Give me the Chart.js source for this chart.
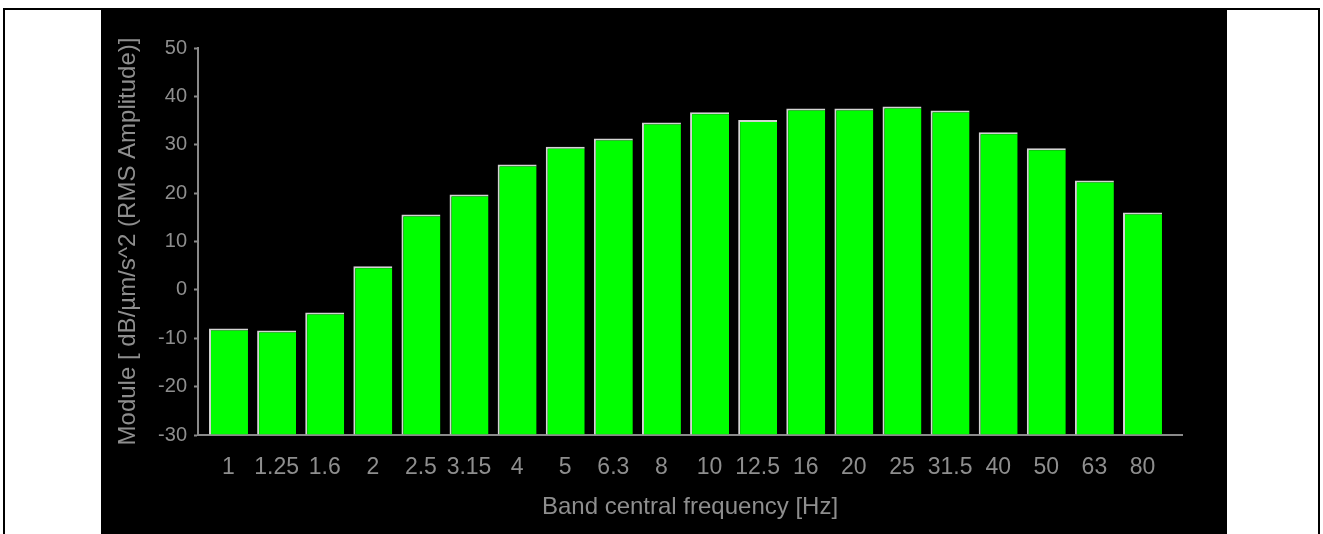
<!DOCTYPE html>
<html>
<head>
<meta charset="utf-8">
<title>Band spectrum</title>
<script src="https://cdn.jsdelivr.net/npm/chart.js@4.4.1/dist/chart.umd.min.js"></script>
<style>
  html, body { margin: 0; padding: 0; background: #ffffff; overflow: hidden; }
  #frame {
    position: absolute; left: 3px; top: 8px; width: 1313px; height: 540px;
    border: 2px solid #000000; box-sizing: content-box;
  }
  #panel {
    position: absolute; left: 101px; top: 10px; width: 1126px; height: 524px;
    background: #000000;
  }
  #chart { display: block; }
</style>
</head>
<body>
<div id="frame"></div>
<div id="panel"><canvas id="chart" width="1126" height="524"></canvas></div>
<script>
// Third-octave band centre frequencies [Hz]
const bandLabels = ['1', '1.25', '1.6', '2', '2.5', '3.15', '4', '5', '6.3', '8',
                    '10', '12.5', '16', '20', '25', '31.5', '40', '50', '63', '80'];

// Band level, dB re 1 µm/s^2 (RMS amplitude)
const bandLevels = [-8.0, -8.4, -4.7, 4.9, 15.6, 19.7, 25.9, 29.6, 31.3, 34.6,
                    36.7, 35.1, 37.5, 37.5, 37.9, 37.1, 32.6, 29.3, 22.6, 16.0];

// Value axis ticks
const levelTicks = [-30, -20, -10, 0, 10, 20, 30, 40, 50];

const axisGrey = '#8a8a8a';
const textGrey = '#8e8e8e';
const fontFamily = '"Liberation Sans", Arial, sans-serif';

const points = bandLevels.map((v, i) => ({ x: i, y: v }));

new Chart(document.getElementById('chart'), {
  type: 'bar',
  data: {
    datasets: [{
      data: points,
      base: levelTicks[0],
      backgroundColor: '#00ff00',
      borderColor: '#d4d4d4',
      borderWidth: { top: 2, left: 2, right: 0, bottom: 0 },
      borderSkipped: false,
      categoryPercentage: 1.0,
      barPercentage: 0.81
    }]
  },
  options: {
    responsive: false,
    devicePixelRatio: 1,
    animation: false,
    layout: { padding: { top: 38, right: 45, left: 0, bottom: 0 } },
    plugins: { legend: { display: false }, tooltip: { enabled: false } },
    scales: {
      x: {
        type: 'linear',
        offset: false,
        min: -0.634,
        max: 19.821,
        grid: { display: false, offset: false },
        border: { display: true, color: axisGrey, width: 2 },
        afterBuildTicks: (scale) => { scale.ticks = bandLabels.map((_, i) => ({ value: i })); },
        afterFit: (scale) => { scale.height = 99; },
        ticks: {
          autoSkip: false,
          maxRotation: 0,
          padding: 11,
          color: textGrey,
          font: { family: fontFamily, size: 23 },
          callback: (value) => bandLabels[value]
        },
        title: {
          display: true,
          text: 'Band central frequency [Hz]',
          color: textGrey,
          font: { family: fontFamily, size: 24 },
          padding: { top: 0, bottom: 12 }
        }
      },
      y: {
        min: levelTicks[0],
        max: levelTicks[levelTicks.length - 1],
        afterBuildTicks: (scale) => { scale.ticks = levelTicks.map(v => ({ value: v })); },
        afterFit: (scale) => { scale.width = 97; },
        grid: {
          display: true,
          drawOnChartArea: false,
          drawTicks: true,
          tickLength: 4,
          tickColor: axisGrey,
          tickWidth: 2
        },
        border: { display: true, color: axisGrey, width: 2 },
        ticks: {
          padding: 7,
          color: textGrey,
          font: { family: fontFamily, size: 20 }
        },
        title: {
          display: true,
          text: 'Module [ dB/µm/s^2 (RMS Amplitude)]',
          color: textGrey,
          font: { family: fontFamily, size: 24 },
          padding: { top: 13, bottom: 0 }
        }
      }
    }
  }
});
</script>
</body>
</html>
